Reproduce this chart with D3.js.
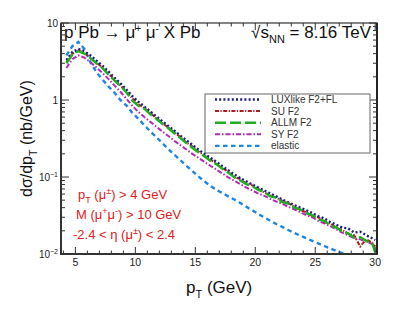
<!DOCTYPE html>
<html>
<head>
<meta charset="utf-8">
<script src="https://cdn.jsdelivr.net/npm/d3@7"></script>
<style>
  body { margin: 0; background: #fff; }
  svg { display: block; font-family: "Liberation Sans", Arial, sans-serif; }
</style>
</head>
<body>
<svg id="chart" width="407" height="312"></svg>
<script>
// pT bin centres (GeV)
var pt = [4.25,4.75,5.25,5.75,6.25,6.75,7.25,7.75,8.25,8.75,9.25,9.75,10.25,10.75,11.25,11.75,12.25,12.75,13.25,13.75,
  14.25,14.75,15.25,15.75,16.25,16.75,17.25,17.75,18.25,18.75,19.25,19.75,20.25,20.75,21.25,21.75,22.25,22.75,23.25,23.75,
  24.25,24.75,25.25,25.75,26.25,26.75,27.25,27.75,28.25,28.75,29.25,29.75,30.0];

// dsigma/dpT (nb/GeV) for each model
var luxlike = [3.3,4.2,4.6,4.3,3.8,3.25,2.8,2.35,1.95,1.65,1.37,1.12,0.95,0.82,0.71,0.61,0.53,0.46,0.40,0.345,
  0.30,0.262,0.228,0.2,0.178,0.158,0.138,0.122,0.108,0.097,0.088,0.08,0.073,0.067,0.061,0.056,0.051,0.047,0.043,0.04,
  0.037,0.034,0.031,0.029,0.026,0.024,0.022,0.0215,0.019,0.0195,0.0175,0.016,0.0152];
var suF2 = [3.1,4.0,4.4,4.1,3.55,3.05,2.65,2.2,1.85,1.55,1.3,1.05,0.88,0.78,0.68,0.58,0.5,0.44,0.38,0.33,
  0.28,0.25,0.215,0.19,0.17,0.148,0.13,0.118,0.1,0.094,0.082,0.078,0.07,0.063,0.058,0.054,0.049,0.046,0.041,0.037,
  0.035,0.031,0.03,0.026,0.025,0.022,0.0205,0.0185,0.0175,0.0125,0.0155,0.014,0.0125];
var allmF2 = [3.0,3.9,4.3,4.0,3.5,3.0,2.6,2.15,1.8,1.52,1.26,0.98,0.84,0.77,0.65,0.57,0.49,0.43,0.37,0.32,
  0.275,0.24,0.21,0.186,0.163,0.147,0.128,0.114,0.099,0.09,0.081,0.076,0.068,0.064,0.056,0.054,0.047,0.045,0.04,0.038,
  0.034,0.032,0.028,0.027,0.0235,0.0222,0.0195,0.0185,0.0163,0.0165,0.0148,0.0138,0.0105];
var syF2 = [2.6,3.4,3.8,3.55,3.1,2.65,2.25,1.88,1.55,1.28,1.04,0.84,0.70,0.6,0.52,0.45,0.39,0.34,0.295,0.26,
  0.228,0.2,0.178,0.158,0.14,0.125,0.111,0.099,0.089,0.081,0.073,0.067,0.061,0.057,0.052,0.048,0.045,0.041,0.038,0.035,
  0.032,0.03,0.027,0.025,0.023,0.021,0.019,0.0175,0.016,0.0155,0.0145,0.0135,0.0125];
var elastic = [3.8,5.0,5.7,4.6,3.1,2.3,1.85,1.5,1.25,1.0,0.85,0.68,0.57,0.47,0.39,0.33,0.275,0.23,0.195,0.165,
  0.14,0.12,0.102,0.088,0.077,0.068,0.062,0.056,0.051,0.046,0.041,0.037,0.033,0.030,0.027,0.0245,0.0225,0.0205,0.0188,0.0173,
  0.016,0.0148,0.0137,0.0127,0.0118,0.011,0.0103,0.0097,0.0091,0.0086,0.0081,0.0077,0.0075];

var xTicks = [5,10,15,20,25,30];
var yTicks = [10,1,0.1,0.01];
var yTickLabels = [["10",""],["1",""],["10","\u22121"],["10","\u22122"]];

var series = [
  {name: "LUXlike F2+FL", values: luxlike, color: "#1c1c8a", dash: "2,2.2", width: 2.4},
  {name: "SU F2", values: suF2, color: "#b01c1c", dash: "4,1.5,1.2,1.5", width: 2},
  {name: "ALLM F2", values: allmF2, color: "#1fae1f", dash: "11,4", width: 2.4},
  {name: "SY F2", values: syF2, color: "#b22ab8", dash: "5,2,1.5,2", width: 2},
  {name: "elastic", values: elastic, color: "#1f86e0", dash: "4.5,3.5", width: 2.4}
];

var svg = d3.select("#chart");
// frame edges (px)
var fL = 61, fR = 377, fT = 23, fB = 254;

var x = d3.scaleLinear().domain([3.8, 30.15]).range([fL, fR]);
var y = d3.scaleLog().domain([0.01, 10]).range([fB, fT]);

svg.append("clipPath").attr("id", "clip")
  .append("rect").attr("x", fL).attr("y", fT).attr("width", fR - fL).attr("height", fB - fT);

// curves
var line = d3.line()
  .x(function(d) { return x(d[0]); })
  .y(function(d) { return y(d[1]); });

var plot = svg.append("g").attr("clip-path", "url(#clip)");
// draw elastic first so the others sit on top
[4, 3, 1, 0, 2].forEach(function(i) {
  var s = series[i];
  var pts = pt.map(function(p, j) { return [p, s.values[j]]; });
  plot.append("path")
    .datum(pts)
    .attr("fill", "none")
    .attr("stroke", s.color)
    .attr("stroke-width", s.width)
    .attr("stroke-dasharray", s.dash)
    .attr("d", line);
});

// frame
svg.append("rect")
  .attr("x", fL).attr("y", fT)
  .attr("width", fR - fL).attr("height", fB - fT)
  .attr("fill", "none").attr("stroke", "#333").attr("stroke-width", 1.2);
svg.append("line").attr("x1", fL).attr("x2", fL).attr("y1", fT).attr("y2", fB + 1)
  .attr("stroke", "#333").attr("stroke-width", 2);
svg.append("line").attr("x1", fL - 1).attr("x2", fR + 1).attr("y1", fB).attr("y2", fB)
  .attr("stroke", "#333").attr("stroke-width", 2);
svg.append("line").attr("x1", fR).attr("x2", fR).attr("y1", fT).attr("y2", fB)
  .attr("stroke", "#222").attr("stroke-width", 2);

// ticks
var axisG = svg.append("g").attr("stroke", "#333").attr("stroke-width", 1);
d3.range(4, 31).forEach(function(v) {
  var major = v % 5 === 0;
  var len = major ? 7 : 3.5;
  axisG.append("line").attr("x1", x(v)).attr("x2", x(v)).attr("y1", fB).attr("y2", fB - len);
  axisG.append("line").attr("x1", x(v)).attr("x2", x(v)).attr("y1", fT).attr("y2", fT + len);
});
y.ticks().forEach(function(v) {
  var major = Math.abs(Math.log10(v) - Math.round(Math.log10(v))) < 1e-6;
  var len = major ? 8 : 4;
  axisG.append("line").attr("x1", fL).attr("x2", fL + len).attr("y1", y(v)).attr("y2", y(v));
  axisG.append("line").attr("x1", fR).attr("x2", fR - len).attr("y1", y(v)).attr("y2", y(v));
});

// tick labels
svg.append("g").selectAll("text").data(xTicks).enter().append("text")
  .attr("x", function(d) { return x(d); })
  .attr("y", 266)
  .attr("text-anchor", "middle")
  .attr("font-size", 10.5)
  .attr("fill", "#222")
  .text(function(d) { return d; });

yTicks.forEach(function(v, i) {
  var t = svg.append("text")
    .attr("x", 58).attr("y", y(v) + 3.5)
    .attr("text-anchor", "end")
    .attr("font-size", 10)
    .attr("fill", "#222");
  t.append("tspan").text(yTickLabels[i][0]);
  if (yTickLabels[i][1]) {
    t.append("tspan").attr("dy", -4).attr("font-size", 7).text(yTickLabels[i][1]);
  }
});

// axis titles
var xt = svg.append("text").attr("x", 186).attr("y", 293).attr("font-size", 17).attr("fill", "#111");
xt.append("tspan").text("p");
xt.append("tspan").attr("dy", 5).attr("font-size", 11).text("T");
xt.append("tspan").attr("dy", -5).text(" (GeV)");

var yt = svg.append("text")
  .attr("transform", "translate(32,197) rotate(-90)")
  .attr("font-size", 16).attr("fill", "#111");
yt.append("tspan").text("d\u03c3/dp");
yt.append("tspan").attr("dy", 5).attr("font-size", 10.5).text("T");
yt.append("tspan").attr("dy", -5).text(" (nb/GeV)");

// process label
var pl = svg.append("text").attr("x", 64).attr("y", 38).attr("font-size", 17).attr("fill", "#111");
pl.append("tspan").text("p Pb \u2192 \u03bc");
pl.append("tspan").attr("dy", -6).attr("font-size", 10).text("+");
pl.append("tspan").attr("dy", 6).text(" \u03bc");
pl.append("tspan").attr("dy", -6).attr("font-size", 10).text("-");
pl.append("tspan").attr("dy", 6).text(" X Pb");

var sl = svg.append("text").attr("x", 371).attr("y", 38).attr("font-size", 17)
  .attr("fill", "#111").attr("text-anchor", "end");
sl.append("tspan").text("\u221as");
sl.append("tspan").attr("dy", 5).attr("font-size", 11).text("NN");
sl.append("tspan").attr("dy", -5).text(" = 8.16 TeV");

// cuts annotation
var red = "#dd2020";
var c1 = svg.append("text").attr("x", 78).attr("y", 199).attr("font-size", 13).attr("fill", red);
c1.append("tspan").text("p");
c1.append("tspan").attr("dy", 4).attr("font-size", 9).text("T");
c1.append("tspan").attr("dy", -4).text(" (\u03bc");
c1.append("tspan").attr("dy", -5).attr("font-size", 9).text("\u00b1");
c1.append("tspan").attr("dy", 5).text(") > 4 GeV");

var c2 = svg.append("text").attr("x", 76).attr("y", 219).attr("font-size", 13).attr("fill", red);
c2.append("tspan").text("M (\u03bc");
c2.append("tspan").attr("dy", -5).attr("font-size", 9).text("+");
c2.append("tspan").attr("dy", 5).text("\u03bc");
c2.append("tspan").attr("dy", -5).attr("font-size", 9).text("-");
c2.append("tspan").attr("dy", 5).text(") > 10 GeV");

var c3 = svg.append("text").attr("x", 73).attr("y", 239).attr("font-size", 13).attr("fill", red);
c3.append("tspan").text("-2.4 < \u03b7 (\u03bc");
c3.append("tspan").attr("dy", -5).attr("font-size", 9).text("\u00b1");
c3.append("tspan").attr("dy", 5).text(") < 2.4");

// legend
var lg = svg.append("g");
lg.append("rect").attr("x", 205).attr("y", 94).attr("width", 165).attr("height", 59)
  .attr("fill", "#fff").attr("stroke", "#666").attr("stroke-width", 1);
series.forEach(function(s, i) {
  var ly = 99.5 + i * 11.6;
  lg.append("line").attr("x1", 215).attr("x2", 261).attr("y1", ly).attr("y2", ly)
    .attr("stroke", s.color).attr("stroke-width", s.width).attr("stroke-dasharray", s.dash);
  lg.append("text").attr("x", 271).attr("y", ly + 3.5).attr("font-size", 10).attr("fill", "#333").text(s.name);
});
</script>
</body>
</html>
